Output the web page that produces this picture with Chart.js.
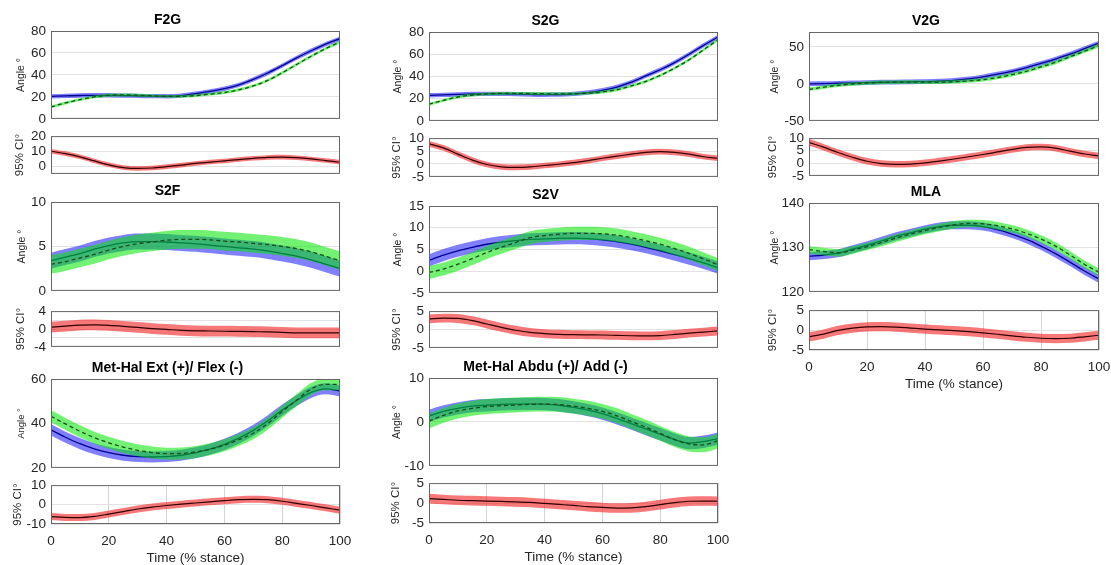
<!DOCTYPE html>
<html>
<head>
<meta charset="utf-8">
<script src="https://cdn.jsdelivr.net/npm/chart.js@4.4.1/dist/chart.umd.min.js"></script>
<style>
  html, body { margin: 0; padding: 0; background: #ffffff; }
  #fig { position: relative; width: 1111px; height: 565px; overflow: hidden; background: #ffffff; }
  #fig canvas { position: absolute; }
</style>
</head>
<body>
<div id="fig"></div>
<script>
// Time axis (% of stance) shared by every curve
const stance = [0, 5, 10, 15, 20, 25, 30, 35, 40, 45, 50, 55, 60, 65, 70, 75, 80, 85, 90, 95, 100];
const timeTicks = [0, 20, 40, 60, 80, 100];

// F2G
const f2gBlue  = [20.5, 21.0, 21.3, 21.5, 21.5, 21.2, 21.0, 20.7, 20.6, 21.2, 23.0, 25.0, 27.5, 31.0, 36.0, 41.8, 48.5, 55.5, 62.0, 68.0, 73.0];
const f2gGreen = [11.0, 14.5, 17.5, 20.0, 21.5, 21.8, 21.5, 21.0, 20.5, 20.5, 21.2, 22.5, 24.0, 26.5, 30.0, 35.0, 42.0, 49.5, 57.0, 64.0, 70.0];
const f2gDiff  = [10.0, 8.4, 6.3, 3.6, 1.0, -0.8, -1.4, -1.1, -0.2, 0.8, 1.9, 2.8, 3.6, 4.5, 5.3, 5.9, 6.1, 5.7, 4.9, 3.8, 2.7];
const f2gSpread = [2.0, 1.3, 1.5];          // half-widths: blue, green, difference
const f2gTicks = [0, 20, 40, 60, 80];
const f2gDiffTicks = [0, 10, 20];

// S2G
const s2gBlue  = [23.0, 23.4, 23.8, 24.2, 24.3, 24.3, 24.1, 23.8, 23.6, 23.7, 24.3, 25.5, 27.5, 30.5, 34.8, 40.5, 46.0, 52.5, 60.0, 68.0, 75.5];
const s2gGreen = [15.0, 18.5, 21.5, 23.3, 24.3, 24.7, 24.8, 24.6, 24.4, 24.3, 24.4, 25.0, 26.0, 28.0, 31.5, 35.5, 41.0, 47.5, 55.0, 64.0, 73.0];
const s2gDiff  = [7.8, 6.2, 3.8, 1.5, -0.2, -1.1, -1.3, -1.1, -0.6, -0.1, 0.5, 1.3, 2.2, 3.0, 3.8, 4.5, 4.8, 4.5, 3.8, 2.8, 2.2];
const s2gSpread = [2.0, 1.3, 1.1];
const s2gTicks = [0, 20, 40, 60, 80];
const s2gDiffTicks = [-5, 0, 5, 10];

// V2G
const v2gBlue  = [0.0, 0.3, 0.8, 1.3, 1.8, 2.2, 2.5, 2.8, 3.1, 3.6, 4.6, 6.6, 9.5, 13.0, 17.0, 22.0, 27.5, 33.5, 40.0, 47.5, 55.0];
const v2gGreen = [-7.4, -4.5, -2.0, -0.2, 1.2, 2.0, 2.3, 2.4, 2.3, 2.3, 2.8, 3.8, 5.6, 8.5, 12.5, 17.0, 23.0, 29.0, 36.5, 44.0, 51.6];
const v2gDiff  = [8.3, 6.4, 4.3, 2.4, 0.8, -0.1, -0.4, -0.3, 0.2, 0.9, 1.7, 2.6, 3.5, 4.5, 5.5, 6.3, 6.5, 6.0, 4.8, 3.7, 2.9];
const v2gSpread = [3.2, 2.4, 1.3];
const v2gTicks = [-50, 0, 50];
const v2gDiffTicks = [-5, 0, 5, 10];

// S2F
const s2fBlue  = [3.4, 3.8, 4.2, 4.7, 5.1, 5.4, 5.55, 5.55, 5.5, 5.4, 5.3, 5.15, 5.0, 4.85, 4.7, 4.5, 4.2, 3.9, 3.5, 3.0, 2.5];
const s2fGreen = [3.0, 3.3, 3.7, 4.1, 4.6, 5.0, 5.3, 5.5, 5.7, 5.8, 5.8, 5.75, 5.6, 5.5, 5.35, 5.2, 5.0, 4.75, 4.4, 3.9, 3.4];
const s2fDiff  = [0.4, 0.65, 0.85, 0.9, 0.8, 0.6, 0.35, 0.1, -0.1, -0.3, -0.4, -0.45, -0.5, -0.55, -0.6, -0.65, -0.75, -0.85, -0.85, -0.85, -0.85];
const s2fSpread = [0.9, 1.05, 1.2];
const s2fTicks = [0, 5, 10];
const s2fDiffTicks = [-4, -2, 0, 2, 4];
const s2fDiffLabels = ['-4', '', '0', '', '4'];

// S2V
const s2vBlue  = [2.5, 3.7, 4.7, 5.5, 6.2, 6.7, 7.05, 7.3, 7.45, 7.55, 7.6, 7.5, 7.2, 6.8, 6.2, 5.5, 4.7, 3.8, 2.9, 1.9, 0.8];
const s2vGreen = [-0.3, 0.5, 1.6, 2.9, 4.3, 5.5, 6.6, 7.7, 8.2, 8.5, 8.7, 8.7, 8.6, 8.3, 7.7, 7.0, 6.2, 5.2, 4.1, 2.8, 1.5];
const s2vDiff  = [2.9, 3.1, 3.0, 2.4, 1.5, 0.6, -0.2, -0.8, -1.1, -1.3, -1.4, -1.45, -1.5, -1.6, -1.7, -1.75, -1.65, -1.35, -1.0, -0.7, -0.4];
const s2vSpread = [1.4, 1.5, 1.2];
const s2vTicks = [-5, 0, 5, 10, 15];
const s2vDiffTicks = [-5, 0, 5];

// MLA
const mlaBlue  = [128.0, 128.3, 128.7, 129.6, 130.5, 131.5, 132.5, 133.3, 134.1, 134.7, 135.0, 135.0, 134.7, 134.0, 133.0, 131.8, 130.3, 128.6, 126.7, 124.7, 122.9];
const mlaGreen = [129.5, 129.1, 128.8, 129.4, 130.2, 131.1, 132.1, 133.0, 133.8, 134.5, 135.1, 135.4, 135.3, 134.9, 134.2, 133.2, 131.9, 130.3, 128.3, 126.2, 124.4];
const mlaDiff  = [-1.7, -1.0, -0.1, 0.5, 0.8, 0.85, 0.75, 0.5, 0.25, 0.05, -0.15, -0.4, -0.7, -1.05, -1.45, -1.8, -2.05, -2.15, -2.05, -1.7, -1.3];
const mlaSpread = [0.9, 0.85, 1.15];
const mlaTicks = [120, 130, 140];
const mlaDiffTicks = [-5, 0, 5];

// Met-Hal Ext (+)/ Flex (-)
const mheBlue  = [37.1, 33.8, 30.9, 28.6, 26.9, 25.7, 25.1, 24.9, 25.1, 25.7, 26.8, 28.4, 30.6, 33.4, 36.9, 41.2, 46.0, 50.3, 54.0, 55.6, 54.6];
const mheGreen = [43.2, 39.8, 36.5, 33.6, 31.3, 29.4, 27.9, 26.9, 26.4, 26.5, 27.2, 28.4, 30.2, 32.7, 35.6, 40.0, 45.3, 50.5, 55.5, 57.6, 57.6];
const mheDiff  = [-6.2, -6.6, -6.7, -6.1, -4.9, -3.6, -2.3, -1.3, -0.5, 0.2, 0.8, 1.4, 2.0, 2.5, 2.7, 2.5, 1.7, 0.6, -0.5, -1.7, -2.9];
const mheSpread = [2.5, 2.7, 1.8];
const mheTicks = [20, 40, 60];
const mheDiffTicks = [-10, 0, 10];

// Met-Hal Abdu (+)/ Add (-)
const mhaBlue  = [1.4, 2.4, 3.1, 3.6, 3.8, 4.0, 4.05, 4.1, 4.05, 3.8, 3.3, 2.7, 1.9, 0.8, -0.4, -1.6, -2.8, -4.0, -4.8, -4.5, -3.8];
const mhaGreen = [0.2, 1.5, 2.5, 3.1, 3.5, 3.7, 3.85, 4.0, 4.05, 3.95, 3.6, 3.1, 2.4, 1.4, 0.1, -1.2, -2.6, -4.0, -5.0, -5.2, -4.3];
const mhaDiff  = [1.1, 0.9, 0.7, 0.6, 0.5, 0.4, 0.3, 0.15, -0.1, -0.35, -0.6, -0.9, -1.1, -1.25, -1.2, -0.9, -0.4, 0.1, 0.45, 0.5, 0.45];
const mhaSpread = [1.4, 1.7, 1.2];
const mhaTicks = [-10, 0, 10];
const mhaDiffTicks = [-5, 0, 5];

// ---------------------------------------------------------------------------
const FONT = '"Liberation Sans", Arial, Helvetica, sans-serif';
const INK = '#262626';
const TICK_SIZE = 13.5;
const BLUE_BAND = 'rgba(0, 0, 255, 0.5)';
const GREEN_BAND = 'rgba(0, 230, 0, 0.55)';
const RED_BAND = 'rgba(240, 30, 30, 0.6)';
const BLUE_LINE = '#000090';
const GREEN_LINE = '#1a4d1a';
const RED_LINE = '#300000';

const fig = document.getElementById('fig');

function points(vals, shift) {
  return stance.map((t, i) => ({ x: t, y: vals[i] + shift }));
}

// upper edge fills down to the lower edge that follows it
function band(vals, half, color) {
  return [
    { data: points(vals, half), fill: '+1', backgroundColor: color, borderColor: 'transparent', borderWidth: 0, pointRadius: 0, cubicInterpolationMode: 'monotone' },
    { data: points(vals, -half), fill: false, backgroundColor: 'transparent', borderColor: 'transparent', borderWidth: 0, pointRadius: 0, cubicInterpolationMode: 'monotone' }
  ];
}

function curve(vals, color, width, dash) {
  return { data: points(vals, 0), fill: false, borderColor: color, borderWidth: width, borderDash: dash || [], pointRadius: 0, cubicInterpolationMode: 'monotone' };
}

// box around each plotting area
const frameBox = {
  id: 'frameBox',
  afterDatasetsDraw(chart) {
    const { ctx, chartArea: a } = chart;
    ctx.save();
    ctx.strokeStyle = '#666666';
    ctx.lineWidth = 1;
    ctx.strokeRect(a.left + 0.5, a.top + 0.5, a.right - a.left - 1, a.bottom - a.top - 1);
    ctx.restore();
  }
};

const SIDE = 56;

function axes(rect, cfg) {
  const [px, py, pw, ph] = rect;
  const top = cfg.title ? 26 : 10;
  const bottom = cfg.xAxis ? 48 : 10;
  const W = pw + 2 * SIDE, H = ph + top + bottom;
  const cv = document.createElement('canvas');
  cv.width = W; cv.height = H;
  cv.style.width = W + 'px'; cv.style.height = H + 'px';
  cv.style.left = (px - SIDE) + 'px';
  cv.style.top = (py - top) + 'px';
  fig.appendChild(cv);

  const titleH = cfg.title ? 14 * 1.2 + 2 : 0;
  const yTitleSize = cfg.yTitleSize;
  const xScale = {
    type: 'linear', min: 0, max: 100, display: !!cfg.xAxis,
    afterBuildTicks: (s) => { s.ticks = timeTicks.map((v) => ({ value: v })); },
    grid: { display: !!cfg.xAxis, color: '#d4d4d4', lineWidth: 1, drawTicks: false },
    border: { display: false },
    ticks: { font: { family: FONT, size: TICK_SIZE }, color: INK, padding: 9, maxRotation: 0, autoSkip: false },
    title: { display: !!cfg.xAxis, text: 'Time (% stance)', font: { family: FONT, size: TICK_SIZE }, color: INK,
             padding: { top: 0, bottom: bottom - 34 - 0.6 * TICK_SIZE } }
  };
  if (cfg.xAxis) xScale.afterFit = (s) => { s.height = bottom; };

  new Chart(cv, {
    type: 'line',
    data: { datasets: cfg.datasets },
    options: {
      responsive: false, animation: false, devicePixelRatio: 1, events: [],
      layout: { padding: { left: 0, right: SIDE, top: top - titleH, bottom: cfg.xAxis ? 0 : bottom } },
      plugins: {
        legend: { display: false }, tooltip: { enabled: false },
        title: cfg.title ? { display: true, text: cfg.title, color: '#000000',
                             font: { family: FONT, size: 14, weight: 'bold' }, padding: { top: 0, bottom: 2 } }
                         : { display: false }
      },
      scales: {
        x: xScale,
        y: {
          type: 'linear', min: cfg.range[0], max: cfg.range[1],
          afterBuildTicks: (s) => { s.ticks = cfg.ticks.map((v) => ({ value: v })); },
          afterFit: (s) => { s.width = SIDE; },
          grid: { color: '#e2e2e2', lineWidth: 1, drawTicks: false },
          border: { display: false },
          ticks: { font: { family: FONT, size: TICK_SIZE }, color: INK, padding: 5, autoSkip: false,
                   callback: (v, i) => (cfg.labels ? cfg.labels[i] : String(v)) },
          title: { display: true, text: cfg.yTitle, color: INK, font: { family: FONT, size: yTitleSize },
                   padding: { top: SIDE - cfg.yTitleOffset - 0.6 * yTitleSize, bottom: 0 } }
        }
      }
    },
    plugins: [frameBox]
  });
}

function panel(p) {
  const [blueS, greenS, diffS] = p.spread;
  // top-most first: Chart.js paints the last dataset first
  axes(p.main, {
    title: p.title, range: p.range, ticks: p.ticks,
    yTitle: 'Angle °', yTitleSize: p.angleSize || 10.5, yTitleOffset: p.angleOff,
    datasets: [
      curve(p.green, GREEN_LINE, 1.3, [4, 3]),
      ...band(p.green, greenS, GREEN_BAND),
      curve(p.blue, BLUE_LINE, 1.3),
      ...band(p.blue, blueS, BLUE_BAND)
    ]
  });
  axes(p.diffRect, {
    range: p.diffRange, ticks: p.diffTicks, labels: p.diffLabels, xAxis: p.xAxis,
    yTitle: '95% CI°', yTitleSize: 11.5, yTitleOffset: p.ciOff,
    datasets: [
      curve(p.diff, RED_LINE, 1.2),
      ...band(p.diff, diffS, RED_BAND)
    ]
  });
}

panel({ title: 'F2G', blue: f2gBlue, green: f2gGreen, diff: f2gDiff, spread: f2gSpread,
        range: [0, 80], ticks: f2gTicks, diffRange: [-5, 20], diffTicks: f2gDiffTicks,
        main: [51, 31, 289, 91], diffRect: [51, 133, 289, 44], angleOff: 30, ciOff: 31 });
panel({ title: 'S2G', blue: s2gBlue, green: s2gGreen, diff: s2gDiff, spread: s2gSpread,
        range: [0, 80], ticks: s2gTicks, diffRange: [-5, 10], diffTicks: s2gDiffTicks,
        main: [429, 32, 289, 92], diffRect: [429, 135, 289, 45], angleOff: 31, ciOff: 32 });
panel({ title: 'V2G', blue: v2gBlue, green: v2gGreen, diff: v2gDiff, spread: v2gSpread,
        range: [-50, 70], ticks: v2gTicks, diffRange: [-5, 10], diffTicks: v2gDiffTicks,
        main: [809, 32, 290, 92], diffRect: [809, 135, 290, 44], angleOff: 34, ciOff: 36 });
panel({ title: 'S2F', blue: s2fBlue, green: s2fGreen, diff: s2fDiff, spread: s2fSpread,
        range: [0, 10], ticks: s2fTicks, diffRange: [-4, 4], diffTicks: s2fDiffTicks, diffLabels: s2fDiffLabels,
        main: [51, 202, 289, 92], diffRect: [51, 308, 289, 42], angleOff: 29, ciOff: 30 });
panel({ title: 'S2V', blue: s2vBlue, green: s2vGreen, diff: s2vDiff, spread: s2vSpread,
        range: [-5, 15], ticks: s2vTicks, diffRange: [-5, 5], diffTicks: s2vDiffTicks,
        main: [429, 206, 289, 90], diffRect: [429, 308, 289, 43], angleOff: 31, ciOff: 32 });
panel({ title: 'MLA', blue: mlaBlue, green: mlaGreen, diff: mlaDiff, spread: mlaSpread,
        range: [120, 140], ticks: mlaTicks, diffRange: [-5, 5], diffTicks: mlaDiffTicks,
        main: [809, 203, 290, 92], diffRect: [809, 307, 290, 43], angleOff: 34, ciOff: 36, xAxis: true });
panel({ title: 'Met-Hal Ext (+)/ Flex (-)', blue: mheBlue, green: mheGreen, diff: mheDiff, spread: mheSpread,
        range: [20, 60], ticks: mheTicks, diffRange: [-10, 10], diffTicks: mheDiffTicks,
        main: [51, 379, 289, 92], diffRect: [51, 482, 289, 42], angleOff: 30, ciOff: 33, angleSize: 9.5, xAxis: true });
panel({ title: 'Met-Hal Abdu (+)/ Add (-)', blue: mhaBlue, green: mhaGreen, diff: mhaDiff, spread: mhaSpread,
        range: [-10, 10], ticks: mhaTicks, diffRange: [-5, 5], diffTicks: mhaDiffTicks,
        main: [429, 378, 289, 91], diffRect: [429, 480, 289, 43], angleOff: 32, ciOff: 33, xAxis: true });
</script>
</body>
</html>
